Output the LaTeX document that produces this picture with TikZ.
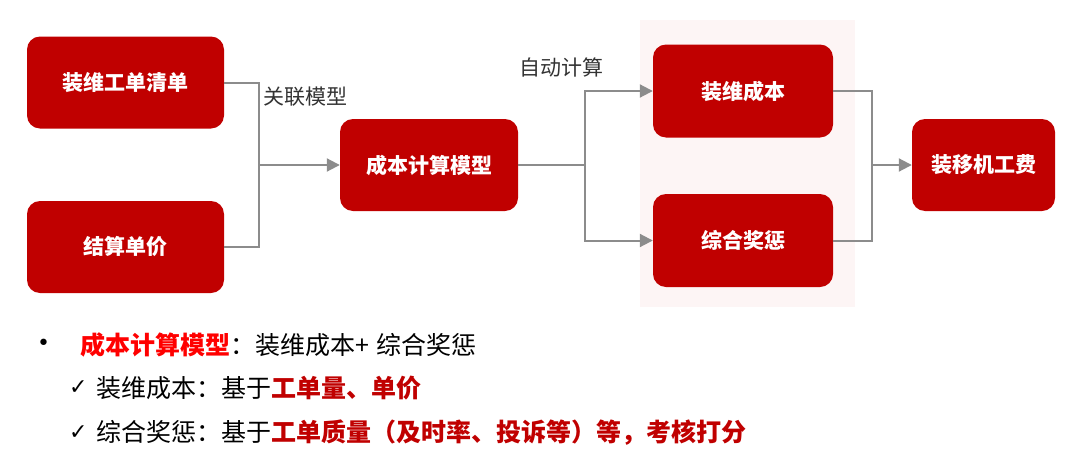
\documentclass[tikz,border=0pt]{standalone}
\usepackage{fontspec}
\setmainfont{Noto Sans CJK SC}
\newfontfamily\symfont{DejaVu Sans}
\usetikzlibrary{arrows.meta}
\definecolor{boxred}{HTML}{C00000}
\definecolor{brightred}{HTML}{FF0000}
\definecolor{conngray}{HTML}{8C8C8C}
\definecolor{pinkbg}{HTML}{FDF5F5}
\definecolor{txtgray}{HTML}{333333}
\begin{document}
\begin{tikzpicture}[x=1pt,y=-1pt,
  redbox/.style={fill=boxred, rounded corners=13pt, text=white, font=\fontsize{21}{24}\selectfont\bfseries, inner sep=0pt, align=center},
  conn/.style={draw=conngray, line width=2pt},
  arr/.style={conn, -{Triangle[length=13pt,width=13pt]}},
  lbl/.style={text=txtgray, font=\fontsize{21}{24}\selectfont, inner sep=0pt},
  textline/.style={anchor=west, inner sep=0pt, font=\fontsize{25}{29}\selectfont, text=black},
  symmark/.style={anchor=west, inner sep=0pt, font=\symfont\fontsize{22}{26}\selectfont, text=black}
]
\useasboundingbox (0,0) rectangle (1080,469);
\fill[pinkbg] (640,20) rectangle (855,307);

\node[redbox, minimum width=197pt, minimum height=92pt] (b1) at (125.5,82.5) {装维工单清单};
\node[redbox, minimum width=197pt, minimum height=92pt] (b2) at (125.5,247) {结算单价};
\node[redbox, minimum width=178pt, minimum height=92pt] (b3) at (429,165) {成本计算模型};
\node[redbox, minimum width=180pt, minimum height=93pt] (b4) at (743,91) {装维成本};
\node[redbox, minimum width=180pt, minimum height=93pt] (b5) at (743,240.5) {综合奖惩};
\node[redbox, minimum width=143pt, minimum height=92pt] (b6) at (983.5,165) {装移机工费};

\coordinate (j1) at (259,165);
\coordinate (j2) at (585,165);
\coordinate (j3) at (872,165);

\draw[conn] (b1.east) -| (j1) |- (b2.east);
\draw[arr] (j1) -- (b3.west);
\draw[conn] (b3.east) -- (j2);
\draw[arr] (j2) |- (b4.west);
\draw[arr] (j2) |- (b5.west);
\draw[conn] (b4.east) -| (j3) |- (b5.east);
\draw[arr] (j3) -- (b6.west);

\node[lbl] (l1) at (305,97) {关联模型};
\node[lbl] (l2) at (561,67) {自动计算};

\node[symmark] (bul) at (37,345) {•};
\node[textline] (t1) at (80,345) {{\bfseries\color{brightred}成本计算模型}：装维成本+\hspace{7pt}综合奖惩};
\node[symmark] (m2) at (69,388) {✓};
\node[textline] (t2) at (96,388) {装维成本：基于{\bfseries\color{boxred}工单量、单价}};
\node[symmark] (m3) at (69,433) {✓};
\node[textline] (t3) at (96,433) {综合奖惩：基于{\bfseries\color{boxred}工单质量（及时率、投诉等）等，考核打分}};
\end{tikzpicture}
\end{document}
